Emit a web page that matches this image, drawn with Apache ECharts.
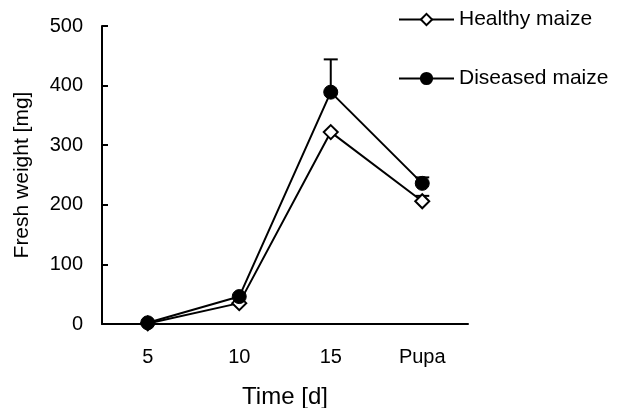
<!DOCTYPE html>
<html>
<head>
<meta charset="utf-8">
<script src="https://cdn.jsdelivr.net/npm/echarts@6/dist/echarts.min.js"></script>
<style>
  html, body { margin: 0; padding: 0; background: #fff; }
  #main { width: 618px; height: 408px; }
</style>
</head>
<body>
<div id="main"></div>
<script>
// 数据
var categories = ['5', '10', '15', 'Pupa'];
var healthy = [1, 35, 322, 206];
var diseased = [2, 46, 389, 236];
// 误差 (上方)
var healthyErr = [0, 0, 0, 9];
var diseasedErr = [0, 0, 55, 10];

var chart = echarts.init(document.getElementById('main'));

// 误差线数据: [类别索引, 均值, 上限]
function errData(vals, errs) {
  var out = [];
  for (var i = 0; i < vals.length; i++) {
    if (errs[i] > 0) out.push([i, vals[i], vals[i] + errs[i]]);
  }
  return out;
}

function renderErr(params, api) {
  var p0 = api.coord([api.value(0), api.value(1)]);
  var p1 = api.coord([api.value(0), api.value(2)]);
  var st = { stroke: '#000', lineWidth: 2 };
  return {
    type: 'group',
    children: [
      { type: 'line', shape: { x1: p0[0], y1: p0[1], x2: p1[0], y2: p1[1] }, style: st },
      { type: 'line', shape: { x1: p1[0] - 7, y1: p1[1], x2: p1[0] + 7, y2: p1[1] }, style: st }
    ]
  };
}

var font = 'Liberation Sans, Arial, sans-serif';

// 图例 (两个, 方便定位)
function makeLegend(name, top) {
  return {
    orient: 'vertical',
    left: 398,
    top: top,
    padding: 0,
    itemWidth: 55,
    itemHeight: 14,
    textStyle: { color: '#000', fontSize: 21, lineHeight: 20, fontFamily: font },
    data: [name]
  };
}

var option = {
  animation: false,
  textStyle: { fontFamily: font },
  grid: { left: 102, right: 150, top: 26, bottom: 84, outerBoundsMode: 'none', containLabel: false },
  legend: [makeLegend('Healthy maize', 9), makeLegend('Diseased maize', 68)],
  xAxis: {
    type: 'category',
    data: categories,
    boundaryGap: true,
    name: 'Time [d]',
    nameLocation: 'middle',
    nameGap: 61,
    nameTextStyle: { color: '#000', fontSize: 24, fontFamily: font },
    axisLine: { lineStyle: { color: '#000', width: 2 } },
    axisTick: { inside: true, length: 6, lineStyle: { color: '#000', width: 2 } },
    axisLabel: { color: '#000', fontSize: 20, margin: 23, fontFamily: font }
  },
  yAxis: {
    type: 'value',
    min: 0,
    max: 500,
    interval: 100,
    name: 'Fresh weight [mg]',
    nameLocation: 'middle',
    nameGap: 69,
    nameTextStyle: { color: '#000', fontSize: 21, fontFamily: font },
    axisLine: { show: true, lineStyle: { color: '#000', width: 2 } },
    axisTick: { show: true, inside: true, length: 6, lineStyle: { color: '#000', width: 2 } },
    axisLabel: { color: '#000', fontSize: 20, margin: 19, fontFamily: font },
    splitLine: { show: false }
  },
  series: [
    {
      type: 'custom',
      renderItem: renderErr,
      data: errData(healthy, healthyErr),
      z: 1
    },
    {
      type: 'custom',
      renderItem: renderErr,
      data: errData(diseased, diseasedErr),
      z: 1
    },
    {
      name: 'Healthy maize',
      type: 'line',
      data: healthy,
      symbol: 'diamond',
      symbolSize: 14,
      lineStyle: { color: '#000', width: 2 },
      itemStyle: { color: '#fff', borderColor: '#000', borderWidth: 2 },
      z: 2
    },
    {
      name: 'Diseased maize',
      type: 'line',
      data: diseased,
      symbol: 'circle',
      symbolSize: 14,
      lineStyle: { color: '#000', width: 2 },
      itemStyle: { color: '#000', borderColor: '#000', borderWidth: 1 },
      z: 3
    }
  ]
};

chart.setOption(option);
</script>
</body>
</html>
